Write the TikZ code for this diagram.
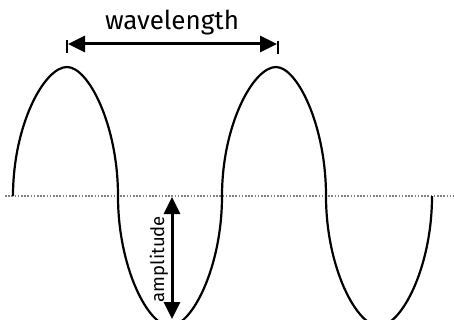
\documentclass[tikz,border=0pt]{standalone}
\usepackage{fontspec}
\setmainfont{Fira Sans}
\usetikzlibrary{arrows.meta}
\begin{document}
\begin{tikzpicture}[x=1pt,y=-1pt,
  wave/.style={line width=2.2pt},
  axisline/.style={gray, line width=2pt, dash pattern=on 1.6pt off 1.6pt},
  dimarrow/.style={line width=3pt, {Triangle[length=17pt,width=16pt]}-{Triangle[length=17pt,width=16pt]}},
  tick/.style={line width=2pt},
  lbl/.style={inner sep=0pt, font=\fontsize{26}{30}\selectfont}]
\useasboundingbox (0,0) rectangle (454,320);
\clip (0,0) rectangle (454,320);
% axis
\coordinate (axL) at (5,196);
\coordinate (axR) at (454,196);
\draw[axisline] (axL) -- (axR);
% wave
\coordinate (c0) at (13,196);
\coordinate (p1) at (67,67);
\coordinate (c1) at (118,196);
\coordinate (t1) at (170,326);
\coordinate (c2) at (222,196);
\coordinate (p2) at (276,67);
\coordinate (c3) at (326,196);
\coordinate (t2) at (379,326);
\coordinate (c4) at (432,196);
\draw[wave]
 (c0) .. controls (13,125) and (44.3,67) .. (p1)
      .. controls (88.4,67) and (118,125) .. (c1)
      .. controls (118,267.5) and (148.2,326) .. (t1)
      .. controls (191.8,326) and (222,267.5) .. (c2)
      .. controls (222,125) and (253.3,67) .. (p2)
      .. controls (297,67) and (326,125) .. (c3)
      .. controls (326,267.5) and (356.7,326) .. (t2)
      .. controls (401.3,326) and (432,267.5) .. (c4);
% wavelength
\coordinate (wl) at (68,44);
\coordinate (wr) at (277,44);
\draw[dimarrow] (wl) -- (wr);
\draw[tick] (67,40) coordinate (tl1) -- (67,53) coordinate (tl2);
\draw[tick] (278,41) coordinate (tr1) -- (278,54) coordinate (tr2);
\node[lbl] (wlabel) at (172,23) {wavelength};
% amplitude
\coordinate (at) at (172,197);
\coordinate (ab) at (172,319);
\draw[dimarrow] (at) -- (ab);
\node[lbl, rotate=90, font=\fontsize{18.5}{22}\selectfont] (alabel) at (159,259) {amplitude};
\end{tikzpicture}
\end{document}
